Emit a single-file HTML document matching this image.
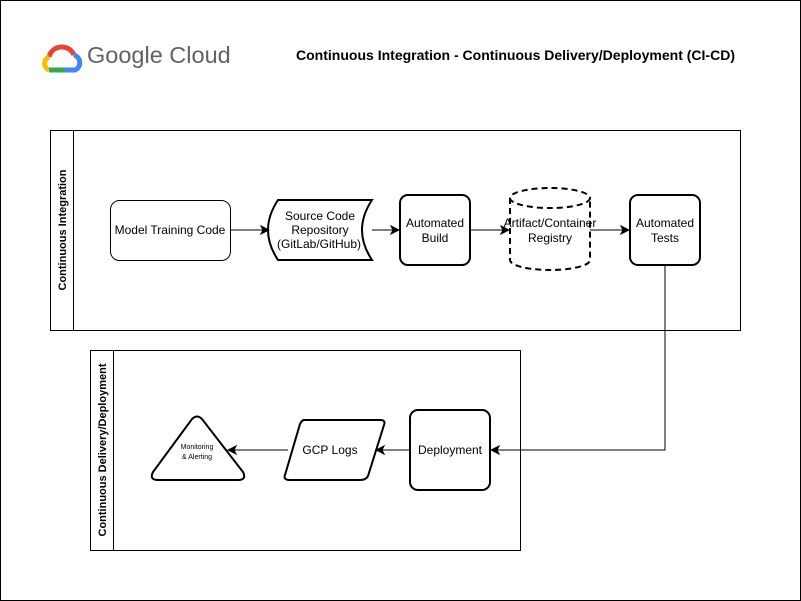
<!DOCTYPE html>
<html><head><style>body{margin:0;background:#fff}svg{display:block}text{font-family:"Liberation Sans",Arial,sans-serif}</style></head><body>
<svg width="801" height="601" viewBox="0 0 801 601" xmlns="http://www.w3.org/2000/svg">
<defs><marker id="a" markerWidth="10" markerHeight="10" refX="9" refY="5" orient="auto" markerUnits="userSpaceOnUse"><path d="M1,1 L9,5 L1,9 L3,5 Z" fill="#000" stroke="#000"/></marker></defs>
<rect x="0.5" y="0.5" width="800" height="600" fill="#fff" stroke="#000"/>
<g transform="translate(41,41)">
<path d="M20,6 A13,13 0 0 1 33,14" stroke="#EA4335" stroke-width="5" fill="none"/>
<path d="M8,16 A13,13 0 0 1 20,6" stroke="#EA4335" stroke-width="5" fill="none"/>
<path d="M33,14 A8,8 0 0 1 34,29 L24,29" stroke="#4285F4" stroke-width="5" fill="none"/>
<path d="M8,16 A7,7 0 0 0 8,29" stroke="#FBBC05" stroke-width="5" fill="none"/>
<path d="M8,29 L24,29" stroke="#34A853" stroke-width="5" fill="none"/>
</g>
<text x="87" y="63" font-size="23.5" fill="#5f6368">Google Cloud</text>
<text x="296" y="60" font-size="14" font-weight="bold" textLength="439" lengthAdjust="spacingAndGlyphs">Continuous Integration - Continuous Delivery/Deployment (CI-CD)</text>
<rect x="50.5" y="130.5" width="690" height="200" fill="none" stroke="#000"/>
<line x1="73.5" y1="130.5" x2="73.5" y2="330.5" stroke="#000"/>
<text transform="translate(66,230) rotate(-90)" text-anchor="middle" font-size="11" font-weight="bold">Continuous Integration</text>
<rect x="90.5" y="350.5" width="430" height="200" fill="none" stroke="#000"/>
<line x1="113.5" y1="350.5" x2="113.5" y2="550.5" stroke="#000"/>
<text transform="translate(106,450) rotate(-90)" text-anchor="middle" font-size="11" font-weight="bold">Continuous Delivery/Deployment</text>
<rect x="110.5" y="200.5" width="120" height="60" rx="9" fill="#fff" stroke="#000"/>
<text x="170" y="234" text-anchor="middle" font-size="12">Model Training Code</text>
<path d="M278,200 L372,200 Q362,215 362,230 Q362,245 372,260 L278,260 Q268,245 268,230 Q268,215 278,200 Z" fill="#fff" stroke="#000" stroke-width="2"/>
<text x="320" y="220" text-anchor="middle" font-size="12">Source Code</text>
<text x="320" y="234" text-anchor="middle" font-size="12">Repository</text>
<text x="319" y="248" text-anchor="middle" font-size="12" textLength="84" lengthAdjust="spacingAndGlyphs">(GitLab/GitHub)</text>
<rect x="400" y="195" width="70" height="70" rx="8" fill="#fff" stroke="#000" stroke-width="2"/>
<text x="435" y="227" text-anchor="middle" font-size="12">Automated</text>
<text x="435" y="242" text-anchor="middle" font-size="12">Build</text>
<g fill="none" stroke="#000" stroke-width="2" stroke-dasharray="6,4">
<ellipse cx="550" cy="198" rx="40" ry="10"/>
<path d="M510,198 L510,260 A40,10 0 0 0 590,260 L590,198"/>
</g>
<text x="550" y="227" text-anchor="middle" font-size="12">Artifact/Container</text>
<text x="550" y="242" text-anchor="middle" font-size="12">Registry</text>
<rect x="630" y="195" width="70" height="70" rx="8" fill="#fff" stroke="#000" stroke-width="2"/>
<text x="665" y="227" text-anchor="middle" font-size="12">Automated</text>
<text x="665" y="242" text-anchor="middle" font-size="12">Tests</text>
<rect x="410" y="410" width="80" height="80" rx="8" fill="#fff" stroke="#000" stroke-width="2"/>
<text x="450" y="454" text-anchor="middle" font-size="12">Deployment</text>
<path d="M304,420 L380,420 Q386,420 384,425 L368,476 Q366,480 360,480 L290,480 Q283,480 285,475 L300,424 Q302,420 304,420 Z" fill="#fff" stroke="#000" stroke-width="2"/>
<text x="330" y="454" text-anchor="middle" font-size="12">GCP Logs</text>
<path d="M192,419 Q197,414 202,419 L243,472 Q247,480 238,480 L158,480 Q149,480 153,472 Z" fill="#fff" stroke="#000" stroke-width="2"/>
<text x="197" y="449" text-anchor="middle" font-size="7">Monitoring</text>
<text x="197" y="459" text-anchor="middle" font-size="7">&amp; Alerting</text>
<g stroke="#000" fill="none" marker-end="url(#a)">
<line x1="230" y1="230" x2="269" y2="230"/>
<line x1="372" y1="230" x2="399" y2="230"/>
<line x1="470" y1="230" x2="509" y2="230"/>
<line x1="590" y1="230" x2="629" y2="230"/>
<path d="M665,265 L665,450 L491,450"/>
<line x1="410" y1="450" x2="376" y2="450"/>
<line x1="288" y1="450" x2="228" y2="450"/>
</g>
</svg>
</body></html>
